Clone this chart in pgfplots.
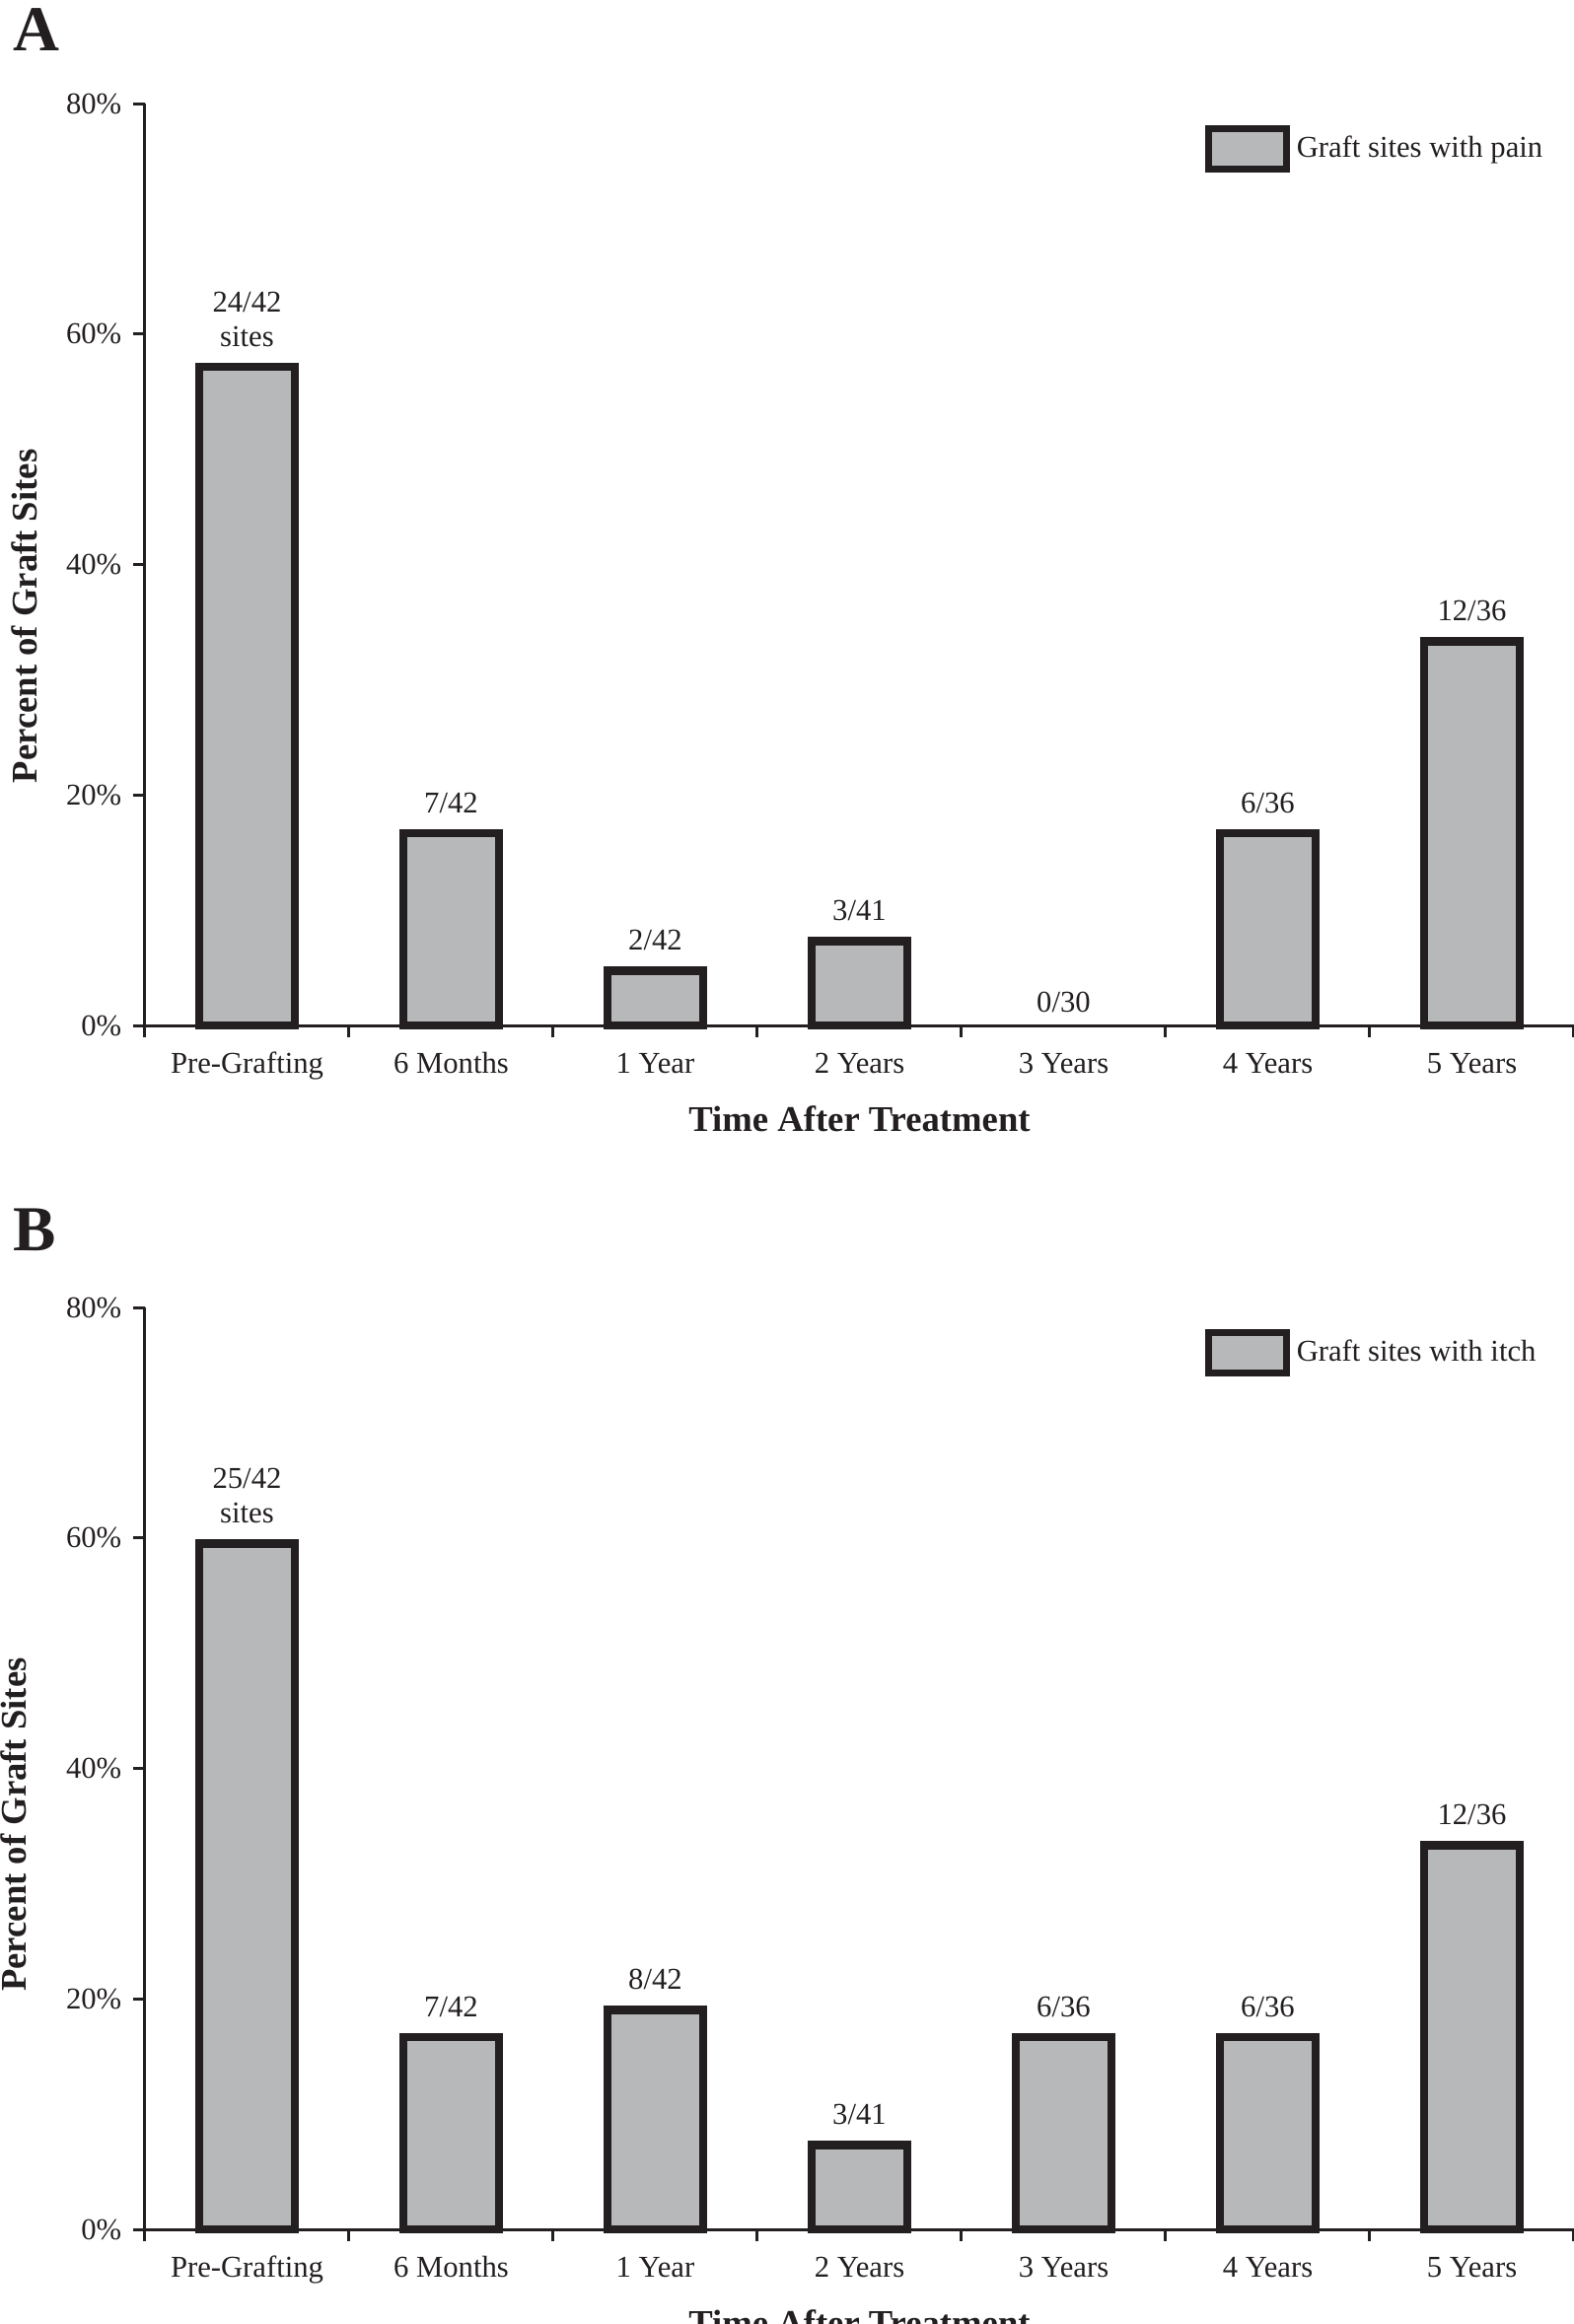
\documentclass[border=0pt]{standalone}
\usepackage{fontspec}
\setmainfont{Liberation Serif}
\usepackage{pgfplots}
\pgfplotsset{compat=1.18}
\definecolor{barfill}{HTML}{B7B8BA}
\definecolor{ink}{HTML}{231F20}

\pgfplotsset{
  panel/.style={
    scale only axis, width=434.7pt, height=280.5pt,
    clip=false,
    xmin=-0.5, xmax=6.5, ymin=0, ymax=80,
    axis x line=bottom, axis y line=left,
    axis line style={-, line width=0.9pt, draw=ink},
    tick style={line width=0.9pt, draw=ink},
    tick align=outside, major tick length=3.6pt,
    xtick={-0.5,0.5,1.5,2.5,3.5,4.5,5.5,6.5},
    xticklabels={,,,,,,,},
    extra x ticks={0,1,2,3,4,5,6},
    extra x tick labels={Pre-Grafting,6 Months,1 Year,2 Years,3 Years,4 Years,5 Years},
    extra x tick style={major tick length=0pt, xticklabel style={anchor=base, yshift=-14.4pt}},
    ytick={0,20,40,60,80},
    yticklabels={0\%,20\%,40\%,60\%,80\%},
    ticklabel style={font=\fontsize{9.2}{10}\selectfont, text=ink},
    xlabel={Time After Treatment},
    xlabel style={at={(axis description cs:0.5,0)}, anchor=base, yshift=-32.1pt,
      font=\fontsize{11}{13}\selectfont\bfseries, text=ink},
    ylabel={Percent of Graft Sites},
    ylabel style={anchor=center, font=\fontsize{11}{13}\selectfont\bfseries, text=ink},
    legend style={draw=none, fill=none, inner sep=0pt, anchor=west,
      font=\fontsize{9.2}{10}\selectfont, text=ink},
    legend cell align=left,
  },
  bars/.style={
    ybar, bar width=29pt, fill=barfill, draw=ink, line width=2.5pt,
    nodes near coords, point meta=explicit symbolic,
    every node near coord/.append style={anchor=south, text depth=0pt, inner sep=0pt,
      yshift=6.2pt, align=center, font=\fontsize{9.2}{10.5}\selectfont, text=ink, line width=0pt},
    legend image code/.code={\draw[##1, line width=2.2pt] (0pt,-6.1pt) rectangle (23.6pt,6.1pt);},
  },
}

\begin{document}
\begin{tikzpicture}
% Panel A
\begin{axis}[panel, at={(44.1pt,-312pt)}, anchor=south west,
  ylabel style={at={(axis description cs:-0.0842,0.444)}},
  legend style={at={(rel axis cs:0.7415,0.951)}}]
\addplot[bars] coordinates {
  (0,57.14) [24/42\\sites]
  (1,16.67) [7/42]
  (2,4.76)  [2/42]
  (3,7.32)  [3/41]
  (5,16.67) [6/36]
  (6,33.33) [12/36]
};
\addlegendentry{Graft sites with pain}
\addplot[forget plot, draw=none, mark=none, nodes near coords, point meta=explicit symbolic,
  every node near coord/.append style={anchor=south, text depth=0pt, inner sep=0pt,
    yshift=4pt, font=\fontsize{9.2}{10.5}\selectfont, text=ink}]
  coordinates {(4,0) [0/30]};
\end{axis}
% Panel B
\begin{axis}[panel, at={(44.1pt,-678.3pt)}, anchor=south west,
  ylabel style={at={(axis description cs:-0.0918,0.439)}},
  legend style={at={(rel axis cs:0.7415,0.951)}}]
\addplot[bars] coordinates {
  (0,59.52) [25/42\\sites]
  (1,16.67) [7/42]
  (2,19.05) [8/42]
  (3,7.32)  [3/41]
  (4,16.67) [6/36]
  (5,16.67) [6/36]
  (6,33.33) [12/36]
};
\addlegendentry{Graft sites with itch}
\end{axis}
\node[anchor=base west, inner sep=0pt, text=ink, font=\fontsize{19.5}{22}\selectfont\bfseries] at (3.9pt,-15.3pt) {A};
\node[anchor=base west, inner sep=0pt, text=ink, font=\fontsize{19.5}{22}\selectfont\bfseries] at (3.9pt,-380.6pt) {B};
\pgfresetboundingbox
\useasboundingbox (0pt,0pt) rectangle (478.8pt,-707.1pt);
\end{tikzpicture}
\end{document}
